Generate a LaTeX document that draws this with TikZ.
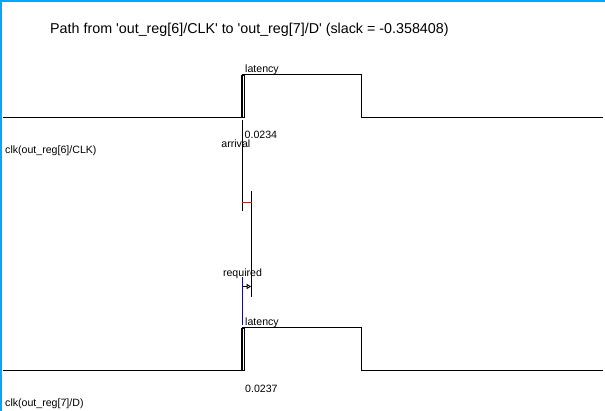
\documentclass[tikz,border=0pt]{standalone}
\usepackage{fontspec}
\newfontfamily\plainsans{Liberation Sans}
\usetikzlibrary{arrows.meta}
\definecolor{frameblue}{RGB}{0,166,255}
\begin{document}
\begin{tikzpicture}[x=1pt,y=-1pt,
  font=\plainsans,
  wave/.style={line width=1pt,black},
  vline/.style={line width=1.2pt,black},
  lbl/.style={inner sep=0pt,font=\plainsans\fontsize{10.6}{12}\selectfont,anchor=west},
  marker/.style={draw=black,line width=0.9pt}
]
\useasboundingbox (0,0) rectangle (605,411);
\fill[white] (0,0) rectangle (605,411);
\draw[frameblue,line width=2pt] (1,411) -- (1,1) -- (605,1);
\node[inner sep=0pt,anchor=west,font=\plainsans\fontsize{14.3}{16}\selectfont] (title) at (50,30) {Path from 'out\_reg[6]/CLK' to 'out\_reg[7]/D' (slack = -0.358408)};
% upper waveform
\coordinate (a0) at (3,117.5);
\coordinate (a1) at (242,117.5);
\coordinate (a2) at (242,75);
\coordinate (a3) at (361,75);
\coordinate (a4) at (361,117.5);
\coordinate (a5) at (603,117.5);
\draw[wave] (a0) -- (a1) -- (a2) -- (a3) -- (a4) -- (a5);
\draw[marker] (241.2,75.5) rectangle (244.4,117.5);
\draw[black,line width=1.2pt,dash pattern=on 2.5pt off 2.5pt] (242.8,77) -- (242.8,117);
\node[lbl] (lat1) at (245,70) {latency};
\node[lbl] (v1) at (244.5,135) {0.0234};
\node[lbl] (clk1) at (5,150.5) {clk(out\_reg[6]/CLK)};
% lower waveform
\coordinate (b0) at (3,370.5);
\coordinate (b1) at (242,370.5);
\coordinate (b2) at (242,328);
\coordinate (b3) at (361,328);
\coordinate (b4) at (361,370.5);
\coordinate (b5) at (603,370.5);
\draw[wave] (b0) -- (b1) -- (b2) -- (b3) -- (b4) -- (b5);
\draw[marker] (241.2,328.5) rectangle (244.4,370.5);
\draw[black,line width=1.2pt,dash pattern=on 2.5pt off 2.5pt] (242.8,330) -- (242.8,370);
\node[lbl] (lat2) at (245,323) {latency};
\node[lbl] (v2) at (245,389) {0.0237};
\node[lbl] (clk2) at (5,404) {clk(out\_reg[7]/D)};
% arrival / required
\coordinate (arrTop) at (242.3,120);
\coordinate (arrBot) at (242.3,211);
\draw[vline] (arrTop) -- (arrBot);
\node[lbl,anchor=east] (arr) at (250.5,143.5) {arrival};
\coordinate (reqTop) at (251.7,191);
\coordinate (reqBot) at (251.7,297);
\draw[vline] (reqTop) -- (reqBot);
\coordinate (redL) at (242.3,202.5);
\coordinate (redR) at (251.7,202.5);
\draw[red,line width=1.2pt] (redL) -- (redR);
\coordinate (bluTop) at (242.7,277);
\coordinate (bluBot) at (242.7,325);
\draw[blue,line width=1.2pt] (bluTop) -- (bluBot);
\node[lbl,anchor=center] (req) at (242.5,273.5) {required};
\coordinate (arL) at (242.7,286.5);
\coordinate (arR) at (251.2,286.5);
\draw[black,line width=0.9pt,-{Triangle[open,length=4.5pt,width=5pt]}] (arL) -- (arR);
\end{tikzpicture}
\end{document}
